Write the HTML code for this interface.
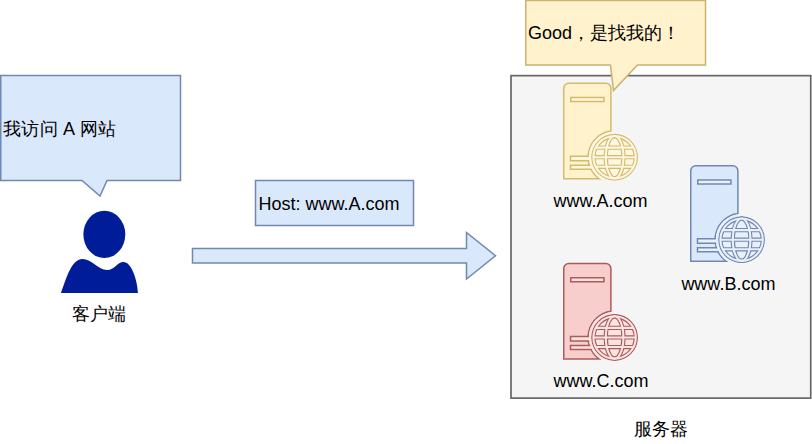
<!DOCTYPE html>
<html><head><meta charset="utf-8"><style>
html,body{margin:0;padding:0;background:#fff;width:812px;height:444px;overflow:hidden}
svg{display:block}
text{font-family:"Liberation Sans", sans-serif}
</style></head><body>
<svg width="812" height="444" viewBox="0 0 812 444">
<rect width="812" height="444" fill="#ffffff"/>
<path d="M0.75,75.5 H180.5 V180.5 H107 L100,196 L82,180.5 H0.75 Z" fill="#dae8fc" stroke="#7088b2" stroke-width="1.5"/>
<ellipse cx="104.35" cy="234.35" rx="20.95" ry="23.65" fill="#001c99"/>
<path d="M61,293 C67,276 72,259 82.5,259 C92,259 98,270 107,270 C115,270 117,262 123.5,262 C131,262 137,278 138,293 Z" fill="#001c99"/>
<rect x="255.5" y="180.5" width="158" height="45" fill="#dae8fc" stroke="#7088b2" stroke-width="1.5"/>
<path d="M192.5,248.5 H466.5 V232.5 L495.5,255.75 L466.5,279 V263 H192.5 Z" fill="#dae8fc" stroke="#7088b2" stroke-width="1.5"/>
<rect x="511" y="75.65" width="299.75" height="322.45" fill="#f5f5f5" stroke="#666666" stroke-width="1.7"/>
<g transform="translate(563,82.5)">
<path d="M0.75,5.75 A5,5 0 0 1 5.75,0.75 H42.9 A5,5 0 0 1 47.9,5.75 V48.46 A26.5,26.5 0 0 0 36.11,96.2 H0.75 Z" fill="#fff2cc" stroke="#d3bb6c" stroke-width="1.5"/>
<rect x="7.75" y="15" width="33.2" height="4" fill="#fdf6e0" stroke="#d3bb6c" stroke-width="1.5"/>
<rect x="7.5" y="73.75" width="30" height="4.5" fill="#fdf6e0" stroke="#d3bb6c" stroke-width="1.5"/>
<rect x="7.5" y="82.75" width="30" height="4" fill="#fdf6e0" stroke="#d3bb6c" stroke-width="1.5"/>
<clipPath id="tc0"><rect x="0" y="0" width="47.9" height="96.2"/></clipPath>
<circle cx="51.6" cy="74.7" r="25.75" fill="#fdf6e0" clip-path="url(#tc0)"/>
<circle cx="51.6" cy="74.7" r="23.4" fill="#fdf6e0"/>
<clipPath id="gc0"><circle cx="51.6" cy="74.7" r="23.7"/></clipPath>
<g clip-path="url(#gc0)" fill="none">
<g stroke="#d3bb6c" stroke-width="4.3"><circle cx="51.6" cy="74.7" r="21.2"/><ellipse cx="51.6" cy="74.7" rx="8.8" ry="21.2"/><line x1="32.70" y1="65.10000000000001" x2="70.50" y2="65.10000000000001"/><line x1="30.40" y1="74.7" x2="72.80" y2="74.7"/><line x1="32.70" y1="84.3" x2="70.50" y2="84.3"/></g>
<g stroke="#fdf6e0" stroke-width="2.1"><circle cx="51.6" cy="74.7" r="21.2"/><ellipse cx="51.6" cy="74.7" rx="8.8" ry="21.2"/><line x1="32.70" y1="65.10000000000001" x2="70.50" y2="65.10000000000001"/><line x1="30.40" y1="74.7" x2="72.80" y2="74.7"/><line x1="32.70" y1="84.3" x2="70.50" y2="84.3"/></g>
</g>
</g>
<g transform="translate(690,165)">
<path d="M0.75,5.75 A5,5 0 0 1 5.75,0.75 H42.9 A5,5 0 0 1 47.9,5.75 V48.46 A26.5,26.5 0 0 0 36.11,96.2 H0.75 Z" fill="#dae8fc" stroke="#7088b2" stroke-width="1.5"/>
<rect x="7.75" y="15" width="33.2" height="4" fill="#e9f0fa" stroke="#7088b2" stroke-width="1.5"/>
<rect x="7.5" y="73.75" width="30" height="4.5" fill="#e9f0fa" stroke="#7088b2" stroke-width="1.5"/>
<rect x="7.5" y="82.75" width="30" height="4" fill="#e9f0fa" stroke="#7088b2" stroke-width="1.5"/>
<clipPath id="tc1"><rect x="0" y="0" width="47.9" height="96.2"/></clipPath>
<circle cx="51.6" cy="74.7" r="25.75" fill="#e9f0fa" clip-path="url(#tc1)"/>
<circle cx="51.6" cy="74.7" r="23.4" fill="#e9f0fa"/>
<clipPath id="gc1"><circle cx="51.6" cy="74.7" r="23.7"/></clipPath>
<g clip-path="url(#gc1)" fill="none">
<g stroke="#7088b2" stroke-width="4.3"><circle cx="51.6" cy="74.7" r="21.2"/><ellipse cx="51.6" cy="74.7" rx="8.8" ry="21.2"/><line x1="32.70" y1="65.10000000000001" x2="70.50" y2="65.10000000000001"/><line x1="30.40" y1="74.7" x2="72.80" y2="74.7"/><line x1="32.70" y1="84.3" x2="70.50" y2="84.3"/></g>
<g stroke="#e9f0fa" stroke-width="2.1"><circle cx="51.6" cy="74.7" r="21.2"/><ellipse cx="51.6" cy="74.7" rx="8.8" ry="21.2"/><line x1="32.70" y1="65.10000000000001" x2="70.50" y2="65.10000000000001"/><line x1="30.40" y1="74.7" x2="72.80" y2="74.7"/><line x1="32.70" y1="84.3" x2="70.50" y2="84.3"/></g>
</g>
</g>
<g transform="translate(563,262.75)">
<path d="M0.75,5.75 A5,5 0 0 1 5.75,0.75 H42.9 A5,5 0 0 1 47.9,5.75 V48.46 A26.5,26.5 0 0 0 36.11,96.2 H0.75 Z" fill="#f8cecc" stroke="#aa5c5a" stroke-width="1.5"/>
<rect x="7.75" y="15" width="33.2" height="4" fill="#f9e4e3" stroke="#aa5c5a" stroke-width="1.5"/>
<rect x="7.5" y="73.75" width="30" height="4.5" fill="#f9e4e3" stroke="#aa5c5a" stroke-width="1.5"/>
<rect x="7.5" y="82.75" width="30" height="4" fill="#f9e4e3" stroke="#aa5c5a" stroke-width="1.5"/>
<clipPath id="tc2"><rect x="0" y="0" width="47.9" height="96.2"/></clipPath>
<circle cx="51.6" cy="74.7" r="25.75" fill="#f9e4e3" clip-path="url(#tc2)"/>
<circle cx="51.6" cy="74.7" r="23.4" fill="#f9e4e3"/>
<clipPath id="gc2"><circle cx="51.6" cy="74.7" r="23.7"/></clipPath>
<g clip-path="url(#gc2)" fill="none">
<g stroke="#aa5c5a" stroke-width="4.3"><circle cx="51.6" cy="74.7" r="21.2"/><ellipse cx="51.6" cy="74.7" rx="8.8" ry="21.2"/><line x1="32.70" y1="65.10000000000001" x2="70.50" y2="65.10000000000001"/><line x1="30.40" y1="74.7" x2="72.80" y2="74.7"/><line x1="32.70" y1="84.3" x2="70.50" y2="84.3"/></g>
<g stroke="#f9e4e3" stroke-width="2.1"><circle cx="51.6" cy="74.7" r="21.2"/><ellipse cx="51.6" cy="74.7" rx="8.8" ry="21.2"/><line x1="32.70" y1="65.10000000000001" x2="70.50" y2="65.10000000000001"/><line x1="30.40" y1="74.7" x2="72.80" y2="74.7"/><line x1="32.70" y1="84.3" x2="70.50" y2="84.3"/></g>
</g>
</g>
<path d="M525.75,0.5 H705.5 V64.9 H637.5 L613.5,90.5 L610.5,64.9 H525.75 Z" fill="#fff2cc" stroke="#c9b36e" stroke-width="1.5"/>
<g font-family='"Liberation Sans", sans-serif'>
<text letter-spacing="0.2" x="3.3" y="134.6" font-size="18" text-anchor="start" fill="#000000">我访问 A 网站</text>
<text x="99.3" y="320" font-size="18" text-anchor="middle" fill="#000000">客户端</text>
<text x="258.4" y="210" font-size="18" text-anchor="start" fill="#000000">Host: www.A.com</text>
<text x="528" y="38.7" font-size="18" text-anchor="start" fill="#000000">Good，是找我的！</text>
<text x="600.5" y="206.7" font-size="18" text-anchor="middle" fill="#000000">www.A.com</text>
<text x="728.4" y="290.1" font-size="18" text-anchor="middle" fill="#000000">www.B.com</text>
<text x="600.9" y="386.9" font-size="18" text-anchor="middle" fill="#000000">www.C.com</text>
<text x="660.8" y="435" font-size="18" text-anchor="middle" fill="#000000">服务器</text>
</g>
</svg>
</body></html>
